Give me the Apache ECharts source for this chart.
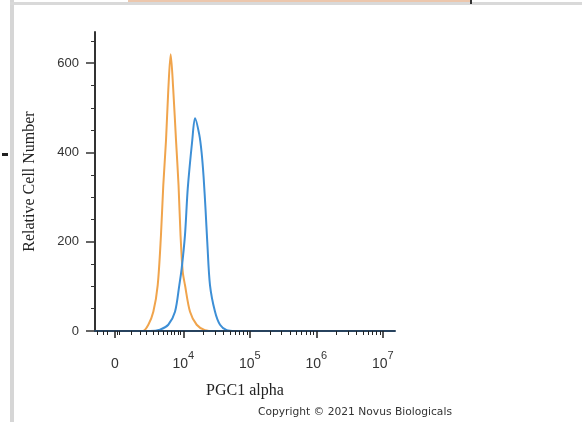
<!DOCTYPE html>
<html>
<head>
<meta charset="utf-8">
<script src="https://cdn.jsdelivr.net/npm/echarts@6/dist/echarts.min.js"></script>
<style>
html,body{margin:0;padding:0;background:#fff;}
#chart{width:582px;height:422px;}
</style>
</head>
<body>
<div id="chart"></div>
<script>
// x values are log10 of fluorescence intensity (decades); y values are cell counts
var controlX = [2.672, 3.30, 3.394, 3.474, 3.549, 3.615, 3.664, 3.699, 3.740, 3.774, 3.810, 3.849, 3.890, 3.928, 3.958, 3.991, 4.025, 4.101, 4.201, 4.325, 4.477, 7.183];
var controlY = [0, 0, 0, 14, 43, 103, 215, 327, 428, 540, 620, 540, 428, 327, 215, 133, 103, 43, 14, 2, 0, 0];

var pgc1X = [2.672, 3.40, 3.499, 3.649, 3.774, 3.875, 3.940, 3.976, 4.025, 4.067, 4.135, 4.176, 4.240, 4.275, 4.305, 4.335, 4.360, 4.401, 4.477, 4.552, 4.652, 4.777, 7.183];
var pgc1Y = [0, 0, 0, 3, 14, 43, 103, 141, 215, 320, 428, 477, 440, 400, 345, 270, 200, 103, 43, 14, 2, 0, 0];

// axis ticks and labels
var xMajorTicks = [2.97, 4, 5, 6, 7];
var xLabelBase = ['0', '10', '10', '10', '10'];
var xLabelExp = ['', '4', '5', '6', '7'];
var xMinorTicks = [2.71, 2.79, 2.86, 3.0, 3.03, 3.22, 3.35, 3.45, 3.55, 3.63, 3.70, 3.76, 3.82, 3.87, 3.92, 3.96,
  4.301, 4.477, 4.602, 4.699, 4.778, 4.845, 4.903, 4.954,
  5.301, 5.477, 5.602, 5.699, 5.778, 5.845, 5.903, 5.954,
  6.301, 6.477, 6.602, 6.699, 6.778, 6.845, 6.903, 6.954];
var yMajorTicks = [0, 200, 400, 600];
var yMinorTicks = [50, 100, 150, 250, 300, 350, 450, 500, 550, 650];

var chart = echarts.init(document.getElementById('chart'), null, {renderer: 'canvas'});

function makeSeries(name, xs, ys, color) {
  var data = xs.map(function (x, i) { return [x, ys[i]]; });
  return {
    name: name, type: 'line', data: data, showSymbol: false, smooth: 0.3,
    xAxisIndex: 0, yAxisIndex: 0,
    lineStyle: {color: color, width: 2}, itemStyle: {color: color}, z: 2
  };
}

var option = {
  backgroundColor: '#ffffff',
  animation: false,
  grid: {left: 95, right: 187, top: 32, bottom: 91},
  xAxis: [{
    type: 'value', min: 2.672, max: 7.183, position: 'bottom', z: 5,
    name: 'PGC1 alpha', nameLocation: 'middle', nameGap: 52,
    nameTextStyle: {fontFamily: 'Liberation Serif', fontSize: 16, color: '#222'},
    axisLine: {show: true, lineStyle: {color: '#27425e', width: 2}},
    axisTick: {show: true, customValues: xMajorTicks, length: 7, lineStyle: {color: '#222', width: 1.5}},
    axisLabel: {
      customValues: xMajorTicks, margin: 19,
      formatter: function (v) {
        var i = xMajorTicks.indexOf(v);
        if (i < 0) return '';
        return '{b|' + xLabelBase[i] + '}' + (xLabelExp[i] ? '{s|' + xLabelExp[i] + '}' : '');
      },
      rich: {
        b: {fontFamily: 'Liberation Sans', fontSize: 14, color: '#333', lineHeight: 21, verticalAlign: 'bottom'},
        s: {fontFamily: 'Liberation Sans', fontSize: 11, color: '#333', lineHeight: 21, verticalAlign: 'top'}
      }
    },
    splitLine: {show: false}
  }, {
    type: 'value', min: 2.672, max: 7.183, position: 'bottom', z: 5,
    axisLine: {show: false},
    axisTick: {show: true, customValues: xMinorTicks, length: 4, lineStyle: {color: '#222', width: 1}},
    axisLabel: {show: false},
    splitLine: {show: false}
  }],
  yAxis: [{
    type: 'value', min: 0, max: 670, position: 'left',
    name: 'Relative Cell Number', nameLocation: 'middle', nameGap: 57, nameRotate: 90,
    nameTextStyle: {fontFamily: 'Liberation Serif', fontSize: 16, color: '#222'},
    axisLine: {show: true, lineStyle: {color: '#333', width: 2}},
    axisTick: {show: true, customValues: yMajorTicks, length: 9, lineStyle: {color: '#333', width: 1.5}},
    axisLabel: {customValues: yMajorTicks, margin: 16, fontFamily: 'Liberation Sans', fontSize: 13, color: '#333'},
    splitLine: {show: false}
  }, {
    type: 'value', min: 0, max: 670, position: 'left',
    axisLine: {show: false},
    axisTick: {show: true, customValues: yMinorTicks, length: 4, lineStyle: {color: '#333', width: 1}},
    axisLabel: {show: false},
    splitLine: {show: false}
  }],
  graphic: [
    {type: 'rect', shape: {x: 10, y: 0, width: 4, height: 422}, style: {fill: '#d6d6d6'}, silent: true},
    {type: 'rect', shape: {x: 10, y: 2, width: 572, height: 3}, style: {fill: '#d9d9d9'}, silent: true},
    {type: 'rect', shape: {x: 128, y: 0, width: 342, height: 2}, style: {fill: '#ecc7ad'}, silent: true},
    {type: 'rect', shape: {x: 470, y: 0, width: 2, height: 4}, style: {fill: '#333'}, silent: true},
    {type: 'rect', shape: {x: 2, y: 153, width: 6, height: 3}, style: {fill: '#222'}, silent: true},
    {type: 'text', left: 258, top: 407,
     style: {text: 'Copyright \u00A9 2021 Novus Biologicals', font: '10.7px "DejaVu Sans"', fill: '#333'}, silent: true}
  ],
  series: [
    makeSeries('Control', controlX, controlY, '#f0a44c'),
    makeSeries('PGC1 alpha', pgc1X, pgc1Y, '#3d8fd6')
  ]
};
chart.setOption(option);
</script>
</body>
</html>
